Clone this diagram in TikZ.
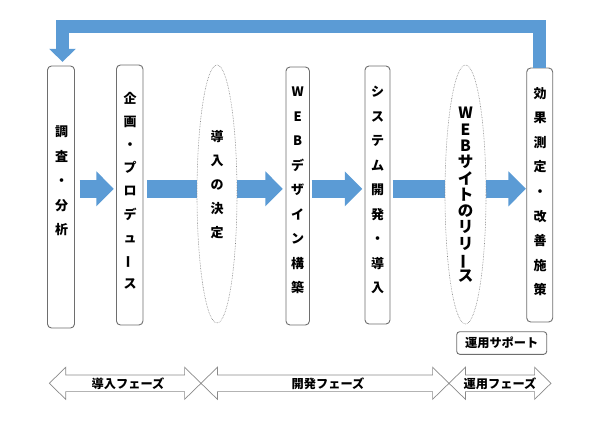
\documentclass[tikz,border=0pt]{standalone}
\usepackage{fontspec}
\usepackage{graphicx}
\setmainfont{Noto Sans CJK JP}
\usetikzlibrary{arrows.meta,shapes.geometric}
\definecolor{flowblue}{HTML}{5B9BD5}
\definecolor{boxgray}{HTML}{6E6E6E}
\definecolor{phasegray}{HTML}{8A8A8A}
\newcommand{\vchoon}{\rotatebox[origin=c]{90}{ー}}
\begin{document}
\begin{tikzpicture}[x=1pt,y=-1pt,
  procbox/.style={draw=boxgray, line width=0.9, rounded corners=4, fill=white, inner sep=0},
  decision/.style={ellipse, draw=gray, densely dotted, line width=0.6, fill=white, inner sep=0},
  vtext/.style={align=center, inner sep=0, font=\fontsize{13}{#1}\selectfont\bfseries},
  flowarrow/.style={draw=flowblue, line width=17.5, line cap=butt, -{Triangle[width=34,length=17.5]}},
  looparrow/.style={draw=flowblue, line width=13.5, line cap=butt, line join=miter, -{Triangle[width=26,length=13]}},
  phase/.style={draw=phasegray, line width=0.7, fill=white, line join=miter},
  phasetext/.style={inner sep=0, font=\fontsize{12.2}{14}\selectfont\bfseries},
  supportbox/.style={draw=boxgray, line width=0.9, rounded corners=3, fill=white, inner sep=0, minimum width=90, minimum height=22.6, font=\fontsize{12.2}{14}\selectfont\bfseries}
]
\useasboundingbox (0,0) rectangle (592,431);

% process boxes
\node[procbox, minimum width=27, minimum height=262] (b1) at (61,197) {};
\node[procbox, minimum width=26.5, minimum height=260] (b2) at (129.7,195) {};
\node[procbox, minimum width=23.5, minimum height=258] (b4) at (297.7,196) {};
\node[procbox, minimum width=25, minimum height=258] (b5) at (377.5,195) {};
\node[procbox, minimum width=26, minimum height=254] (b7) at (539.7,195) {};

% flow arrows
\coordinate (fy) at (0,188.8);
\draw[flowarrow, shorten <=4.7, shorten >=2.2] (b1.east |- fy) -- (b2.west |- fy);
\draw[flowarrow, shorten <=4, shorten >=2.7] (b2.east |- fy) -- (b4.west |- fy);
\draw[flowarrow, shorten <=1.7, shorten >=2.3] (b4.east |- fy) -- (b5.west |- fy);
\draw[flowarrow, shorten <=2.3, shorten >=0.3] (b5.east |- fy) -- (b7.west |- fy);

% feedback loop
\coordinate (ly) at (0,26.5);
\draw[looparrow, shorten >=3.7] (b7.north) -- (b7.north |- ly) -| ([xshift=1.5]b1.north);

% decision ellipses
\node[decision, minimum width=40, minimum height=258] (e1) at (217,194) {};
\node[decision, minimum width=41, minimum height=259] (e2) at (465.5,194.5) {};

% texts
\node[vtext=24.6] (t1) at (61.5,181) {調\\査\\・\\分\\析};
\node[vtext=23.1] (t2) at (130,190.7) {企\\画\\・\\プ\\ロ\\デ\\ュ\\\vchoon\\ス};
\node[vtext=24] (t3) at (217,185) {導\\入\\の\\決\\定};
\node[vtext=24.45] (t4) at (297.7,190.5) {W\\E\\B\\デ\\ザ\\イ\\ン\\構\\築};
\node[vtext=24.5] (t5) at (377.5,190) {シ\\ス\\テ\\ム\\開\\発\\・\\導\\入};
\node[align=center, inner sep=0, font=\fontsize{15.5}{16.3}\selectfont\bfseries] (t6) at (465.5,195) {W\\E\\B\\サ\\イ\\ト\\の\\リ\\リ\\\vchoon\\ス};
\node[vtext=24.6] (t7) at (540,191.7) {効\\果\\測\\定\\・\\改\\善\\施\\策};

% support box
\node[supportbox] (sup) at (501.7,343) {運用サポート};

% phase arrows
\draw[phase] (49.3,383.3) -- (65.7,367.3) -- (65.7,375) -- (184.6,375) -- (184.6,367.3) -- (201,383.3) -- (184.6,399.3) -- (184.6,391.6) -- (65.7,391.6) -- (65.7,399.3) -- cycle;
\draw[phase] (201,383.3) -- (217.4,367.3) -- (217.4,375) -- (432.6,375) -- (432.6,367.3) -- (449,383.3) -- (432.6,399.3) -- (432.6,391.6) -- (217.4,391.6) -- (217.4,399.3) -- cycle;
\draw[phase] (449,383.3) -- (465.4,367.3) -- (465.4,375) -- (534.6,375) -- (534.6,367.3) -- (551,383.3) -- (534.6,399.3) -- (534.6,391.6) -- (465.4,391.6) -- (465.4,399.3) -- cycle;
\node[phasetext] (p1) at (128,383.5) {導入フェーズ};
\node[phasetext] (p2) at (328,383.5) {開発フェーズ};
\node[phasetext] (p3) at (500,383.5) {運用フェーズ};
\end{tikzpicture}
\end{document}
